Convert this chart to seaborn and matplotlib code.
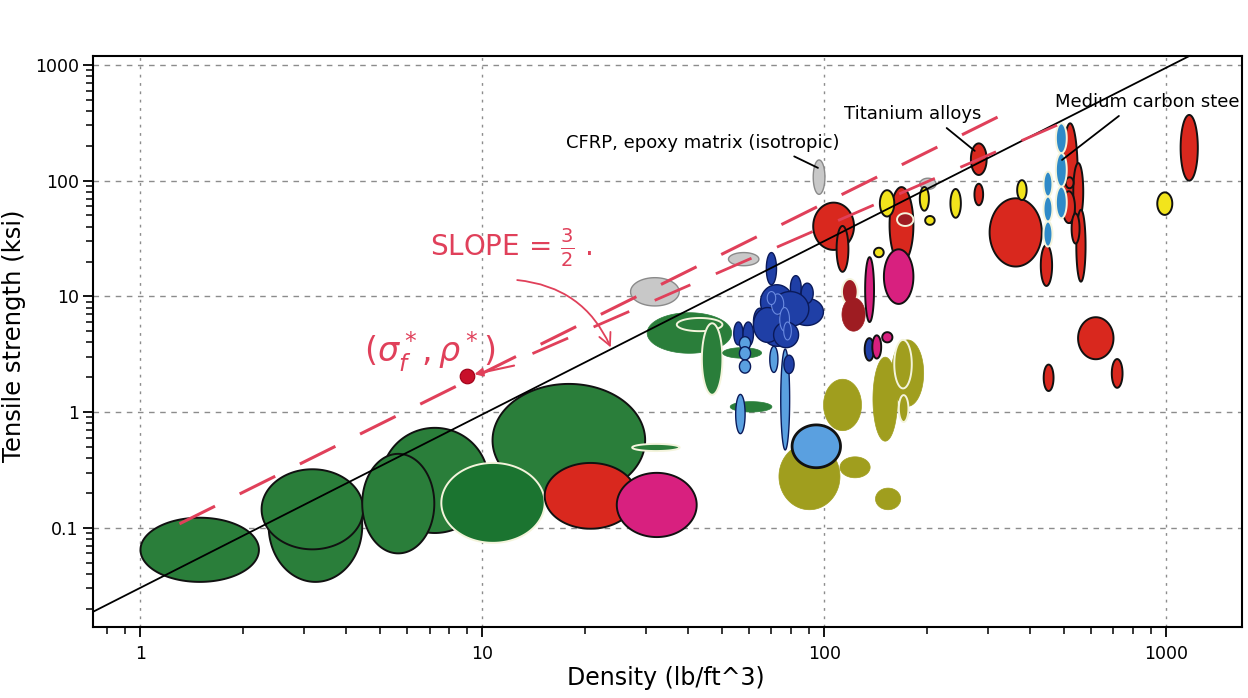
import numpy as np
import matplotlib
matplotlib.use("Agg")
import matplotlib.pyplot as plt
import seaborn as sns
from matplotlib.ticker import FixedLocator, FixedFormatter, LogLocator, NullFormatter

# ---------------- data ----------------
# material-family ellipses: density range (lb/ft^3) and tensile-strength range (ksi), in drawing order
ell_dens_lo = [1.0, 2.37, 2.26, 5.06, 4.45, 10.7, 7.58, 15.2, 24.7, 27.4,
               27.1, 52.4, 92.7, 190,
               30.3, 37.0, 43.8, 50.4, 53.0,
               67.6, 65.0, 79.5, 79.5, 85.5, 62.0, 65.5, 54.3, 57.8, 70.0, 62.0, 71.0, 70.0, 74.0, 68.0, 76.0,
               56.4, 56.4, 56.4, 69.2, 74.5, 76.1, 55.0,
               73.6, 80.4, 99.4, 111, 141, 138.6, 157, 160, 165,
               112.5, 112.5, 131.1, 131.5, 138, 147.5,
               92.7, 108.5, 155, 149.2, 163,
               268, 274.5, 304, 429, 497, 534, 497, 545, 528, 507, 1100, 551.5, 437.5, 692,
               437, 437, 437, 475, 475, 475,
               145.2, 139.6, 190, 197, 233.5, 366, 940]
ell_dens_hi = [2.22, 4.45, 4.48, 10.4, 7.23, 29.9, 15.2, 28.2, 42.3, 37.7,
               37.6, 64.3, 100.3, 212,
               53.5, 50.3, 50.3, 65.5, 70.2,
               72.4, 81.0, 99.3, 85.5, 92.7, 67.6, 81.0, 57.8, 62.0, 90.0, 75.0, 84.0, 76.0, 79.0, 72.0, 80.0,
               60.8, 60.8, 60.8, 73.1, 79.1, 81.5, 58.6,
               111, 111.4, 128.3, 136, 167, 163.5, 195, 180, 176,
               125, 131.5, 139.6, 139.6, 146.5, 158,
               122, 117.5, 182, 182, 182,
               298, 291, 432, 463, 550, 571, 540, 580, 557, 535, 1235, 700, 467.5, 744,
               464, 464, 464, 511, 511, 511,
               160, 149, 202, 210, 250.5, 390, 1040]
ell_str_lo = [0.034, 0.034, 0.065, 0.090, 0.060, 0.185, 0.074, 0.098, 0.083, 0.46,
              8.26, 18.4, 76.2, 84,
              3.22, 5.0, 1.41, 2.92, 1.0,
              12.6, 6.3, 5.6, 9.3, 8.7, 4.6, 3.7, 3.8, 3.7, 5.5, 4.0, 3.6, 7.0, 5.0, 8.5, 4.2,
              3.44, 2.82, 2.17, 2.2, 0.47, 2.15, 0.65,
              0.143, 0.33, 0.69, 0.27, 0.143, 0.56, 1.12, 1.6, 0.82,
              8.5, 5.0, 2.78, 6.0, 2.9, 4.0,
              25.2, 16.3, 19.4, 8.6, 40.6,
              112, 61.3, 18.1, 12.3, 43, 45.6, 43, 13.4, 28.6, 86, 100, 2.86, 1.52, 1.62,
              72.8, 44.3, 26.9, 172.6, 88.7, 47.3,
              49, 21.8, 55, 41.5, 47.8, 68, 50.6]
ell_str_hi = [0.122, 0.315, 0.32, 0.73, 0.435, 1.75, 0.363, 0.363, 0.298, 0.53,
              14.5, 23.9, 151, 105,
              7.22, 6.5, 5.85, 3.6, 1.23,
              23.9, 12.6, 9.6, 15.1, 13.0, 7.9, 7.2, 6.0, 6.0, 11.0, 8.0, 6.0, 10.5, 8.0, 11.0, 6.0,
              4.48, 3.67, 2.82, 3.7, 3.5, 3.1, 1.42,
              0.537, 0.774, 1.92, 0.41, 0.22, 2.98, 4.2, 4.2, 1.4,
              14.1, 9.7, 4.35, 21.8, 4.6, 4.9,
              64.6, 40.6, 88, 25.5, 52.3,
              210, 94, 70.4, 27.8, 313, 142, 81, 56, 52, 107, 370, 6.6, 2.57, 2.87,
              119.6, 72.8, 44.3, 313, 172.6, 88.7,
              82.7, 26.3, 88.1, 49.5, 84.7, 101, 79.2]
ell_family = (["green"] * 5 + ["green", "dkgreen", "red", "magenta", "green"]
              + ["grey"] * 4
              + ["green"] * 5
              + ["blue"] * 16
              + ["ltblue"] * 5 + ["blue", "ltblue"]
              + ["olive", "ltblue"] + ["olive"] * 7
              + ["maroon", "maroon", "blue", "magenta", "magenta", "magenta"]
              + ["red", "red", "red", "magenta", "maroon"]
              + ["red"] * 14
              + ["steel"] * 6
              + ["yellow"] * 7)
ell_edge = (["k"] * 6 + ["w", "k", "k", "w"]
            + ["g"] * 4
            + ["n", "w", "w", "n", "n"]
            + ["d"] * 12 + ["l"] * 4
            + ["d"] * 7
            + ["n", "k2", "n", "n", "n", "n", "n", "w", "w"]
            + ["w", "n", "k", "k", "k", "k"]
            + ["k", "k", "k", "k", "w"]
            + ["k"] * 14
            + ["w"] * 6
            + ["k"] * 7)

# guide line of slope 3/2 and hand-drawn red dashed lines
guide_x = [0.725, 1663]
guide_y = [0.0187, 2035]
red_a_x = [1.3, 378]
red_a_y = [0.108, 451]
red_b_x = [14.0, 495]
red_b_y = [3.2, 315]
# hand-marked point
pt_x = [9.0]
pt_y = [2.05]

x_ticks = [1, 10, 100, 1000]
x_labels = ["1", "10", "100", "1000"]
y_ticks = [0.1, 1, 10, 100, 1000]
y_labels = ["0.1", "1", "10", "100", "1000"]

# ---------------- styling ----------------
palette = {"green": "#2a7e3a", "dkgreen": "#1b7430", "red": "#d9281e", "magenta": "#d8207f",
           "grey": "#c8c8c8", "blue": "#1f3fa6", "ltblue": "#5aa0e0", "olive": "#a09e1e",
           "maroon": "#9e1c22", "steel": "#2f8ac8", "yellow": "#f2e41c"}
edges = {"k": ("#111111", 1.4), "k2": ("#111111", 2.0), "w": ("#f4f4dc", 1.4),
         "g": ("#8a8a8a", 1.0), "n": (None, 0), "d": ("#0a1a5a", 1.0), "l": ("#6a8ae0", 0.8)}
pink = "#e0405a"

sns.set_style("ticks")
plt.rcParams["font.family"] = ["DejaVu Sans"]
plt.rcParams["text.color"] = "black"
plt.rcParams["axes.labelcolor"] = "black"

fig = plt.figure(figsize=(12.48, 6.98), dpi=100)
ax = fig.add_axes([0.0743, 0.1021, 0.9209, 0.8181])
ax.set_xscale("log")
ax.set_yscale("log")
ax.set_xlim(0.725, 1663)
ax.set_ylim(0.01393, 1203)

t = np.linspace(0, 2 * np.pi, 160)
for xl, xh, yl, yh, fam, ed in zip(ell_dens_lo, ell_dens_hi, ell_str_lo, ell_str_hi, ell_family, ell_edge):
    cx, rx = (np.log10(xl) + np.log10(xh)) / 2, (np.log10(xh) - np.log10(xl)) / 2
    cy, ry = (np.log10(yl) + np.log10(yh)) / 2, (np.log10(yh) - np.log10(yl)) / 2
    ec, lw = edges[ed]
    fc = palette[fam]
    ax.fill(10 ** (cx + rx * np.cos(t)), 10 ** (cy + ry * np.sin(t)), facecolor=fc,
            edgecolor=ec if ec else fc, linewidth=lw if ec else 0.5, zorder=2)

sns.lineplot(x=guide_x, y=guide_y, ax=ax, color="black", linewidth=1.3, zorder=4)
sns.lineplot(x=red_a_x, y=red_a_y, ax=ax, color=pink, linewidth=2.2, linestyle=(0, (13, 9)), zorder=5)
sns.lineplot(x=red_b_x, y=red_b_y, ax=ax, color=pink, linewidth=2.0, linestyle=(0, (14, 10)), zorder=5)
sns.scatterplot(x=pt_x, y=pt_y, ax=ax, color="#c8102a", s=110, edgecolor="#a00018", zorder=6)

# labels with leader lines
ax.annotate("CFRP, epoxy matrix (isotropic)", xy=(95.7, 129), xytext=(44.1, 212),
            ha="center", va="center", fontsize=13, color="black",
            arrowprops=dict(arrowstyle="-", color="black", lw=1.3, relpos=(0.8, 0.0), shrinkA=2, shrinkB=0))
ax.annotate("Titanium alloys", xy=(275, 181), xytext=(181.5, 377),
            ha="center", va="center", fontsize=13, color="black",
            arrowprops=dict(arrowstyle="-", color="black", lw=1.3, relpos=(0.7, 0.0), shrinkA=2, shrinkB=0))
ax.annotate("Medium carbon steel", xy=(495, 151), xytext=(895, 479),
            ha="center", va="center", fontsize=13, color="black",
            arrowprops=dict(arrowstyle="-", color="black", lw=1.3, relpos=(0.37, 0.0), shrinkA=2, shrinkB=0))

# hand-written annotations
ax.text(7.0, 26.0, r"SLOPE = $\frac{3}{2}$ .", color=pink, fontsize=20, ha="left", va="center")
ax.annotate("", xy=(23.9, 3.44), xytext=(12.4, 13.9),
            arrowprops=dict(arrowstyle="->", color=pink, lw=1.3, mutation_scale=22,
                            connectionstyle="arc3,rad=-0.3"))
ax.text(7.0, 3.3, r"$(\sigma_f^*,\rho^*)$", color=pink, fontsize=24, ha="center", va="center")
ax.annotate("", xy=(9.3, 2.1), xytext=(12.6, 2.55),
            arrowprops=dict(arrowstyle="-|>", color=pink, lw=1.5, mutation_scale=12))

# axes, ticks, grid
ax.xaxis.set_major_locator(FixedLocator(x_ticks))
ax.xaxis.set_major_formatter(FixedFormatter(x_labels))
ax.yaxis.set_major_locator(FixedLocator(y_ticks))
ax.yaxis.set_major_formatter(FixedFormatter(y_labels))
ax.xaxis.set_minor_locator(LogLocator(base=10, subs=np.arange(2, 10)))
ax.yaxis.set_minor_locator(LogLocator(base=10, subs=np.arange(2, 10)))
ax.xaxis.set_minor_formatter(NullFormatter())
ax.yaxis.set_minor_formatter(NullFormatter())
ax.tick_params(axis="both", which="major", direction="out", length=7, width=1.3, labelsize=12.5,
               colors="black")
ax.tick_params(axis="y", which="major", pad=3)
ax.tick_params(axis="x", which="major", pad=6)
ax.tick_params(axis="both", which="minor", direction="out", length=5, width=1.1, colors="black")
ax.set_axisbelow(True)
ax.xaxis.grid(True, which="major", color="#8c8c8c", linestyle=(0, (2, 4)), linewidth=1.0)
ax.yaxis.grid(True, which="major", color="#8c8c8c", linestyle=(0, (4, 4)), linewidth=1.0)
for s in ax.spines.values():
    s.set_visible(True)
    s.set_linewidth(1.5)
    s.set_color("black")

ax.set_xlabel("Density (lb/ft^3)", fontsize=17)
ax.set_ylabel("Tensile strength (ksi)", fontsize=17.5)
ax.xaxis.set_label_coords(0.499, -0.068)
ax.yaxis.set_label_coords(-0.058, 0.51)

fig.savefig("out.png", dpi=100, facecolor="white")
